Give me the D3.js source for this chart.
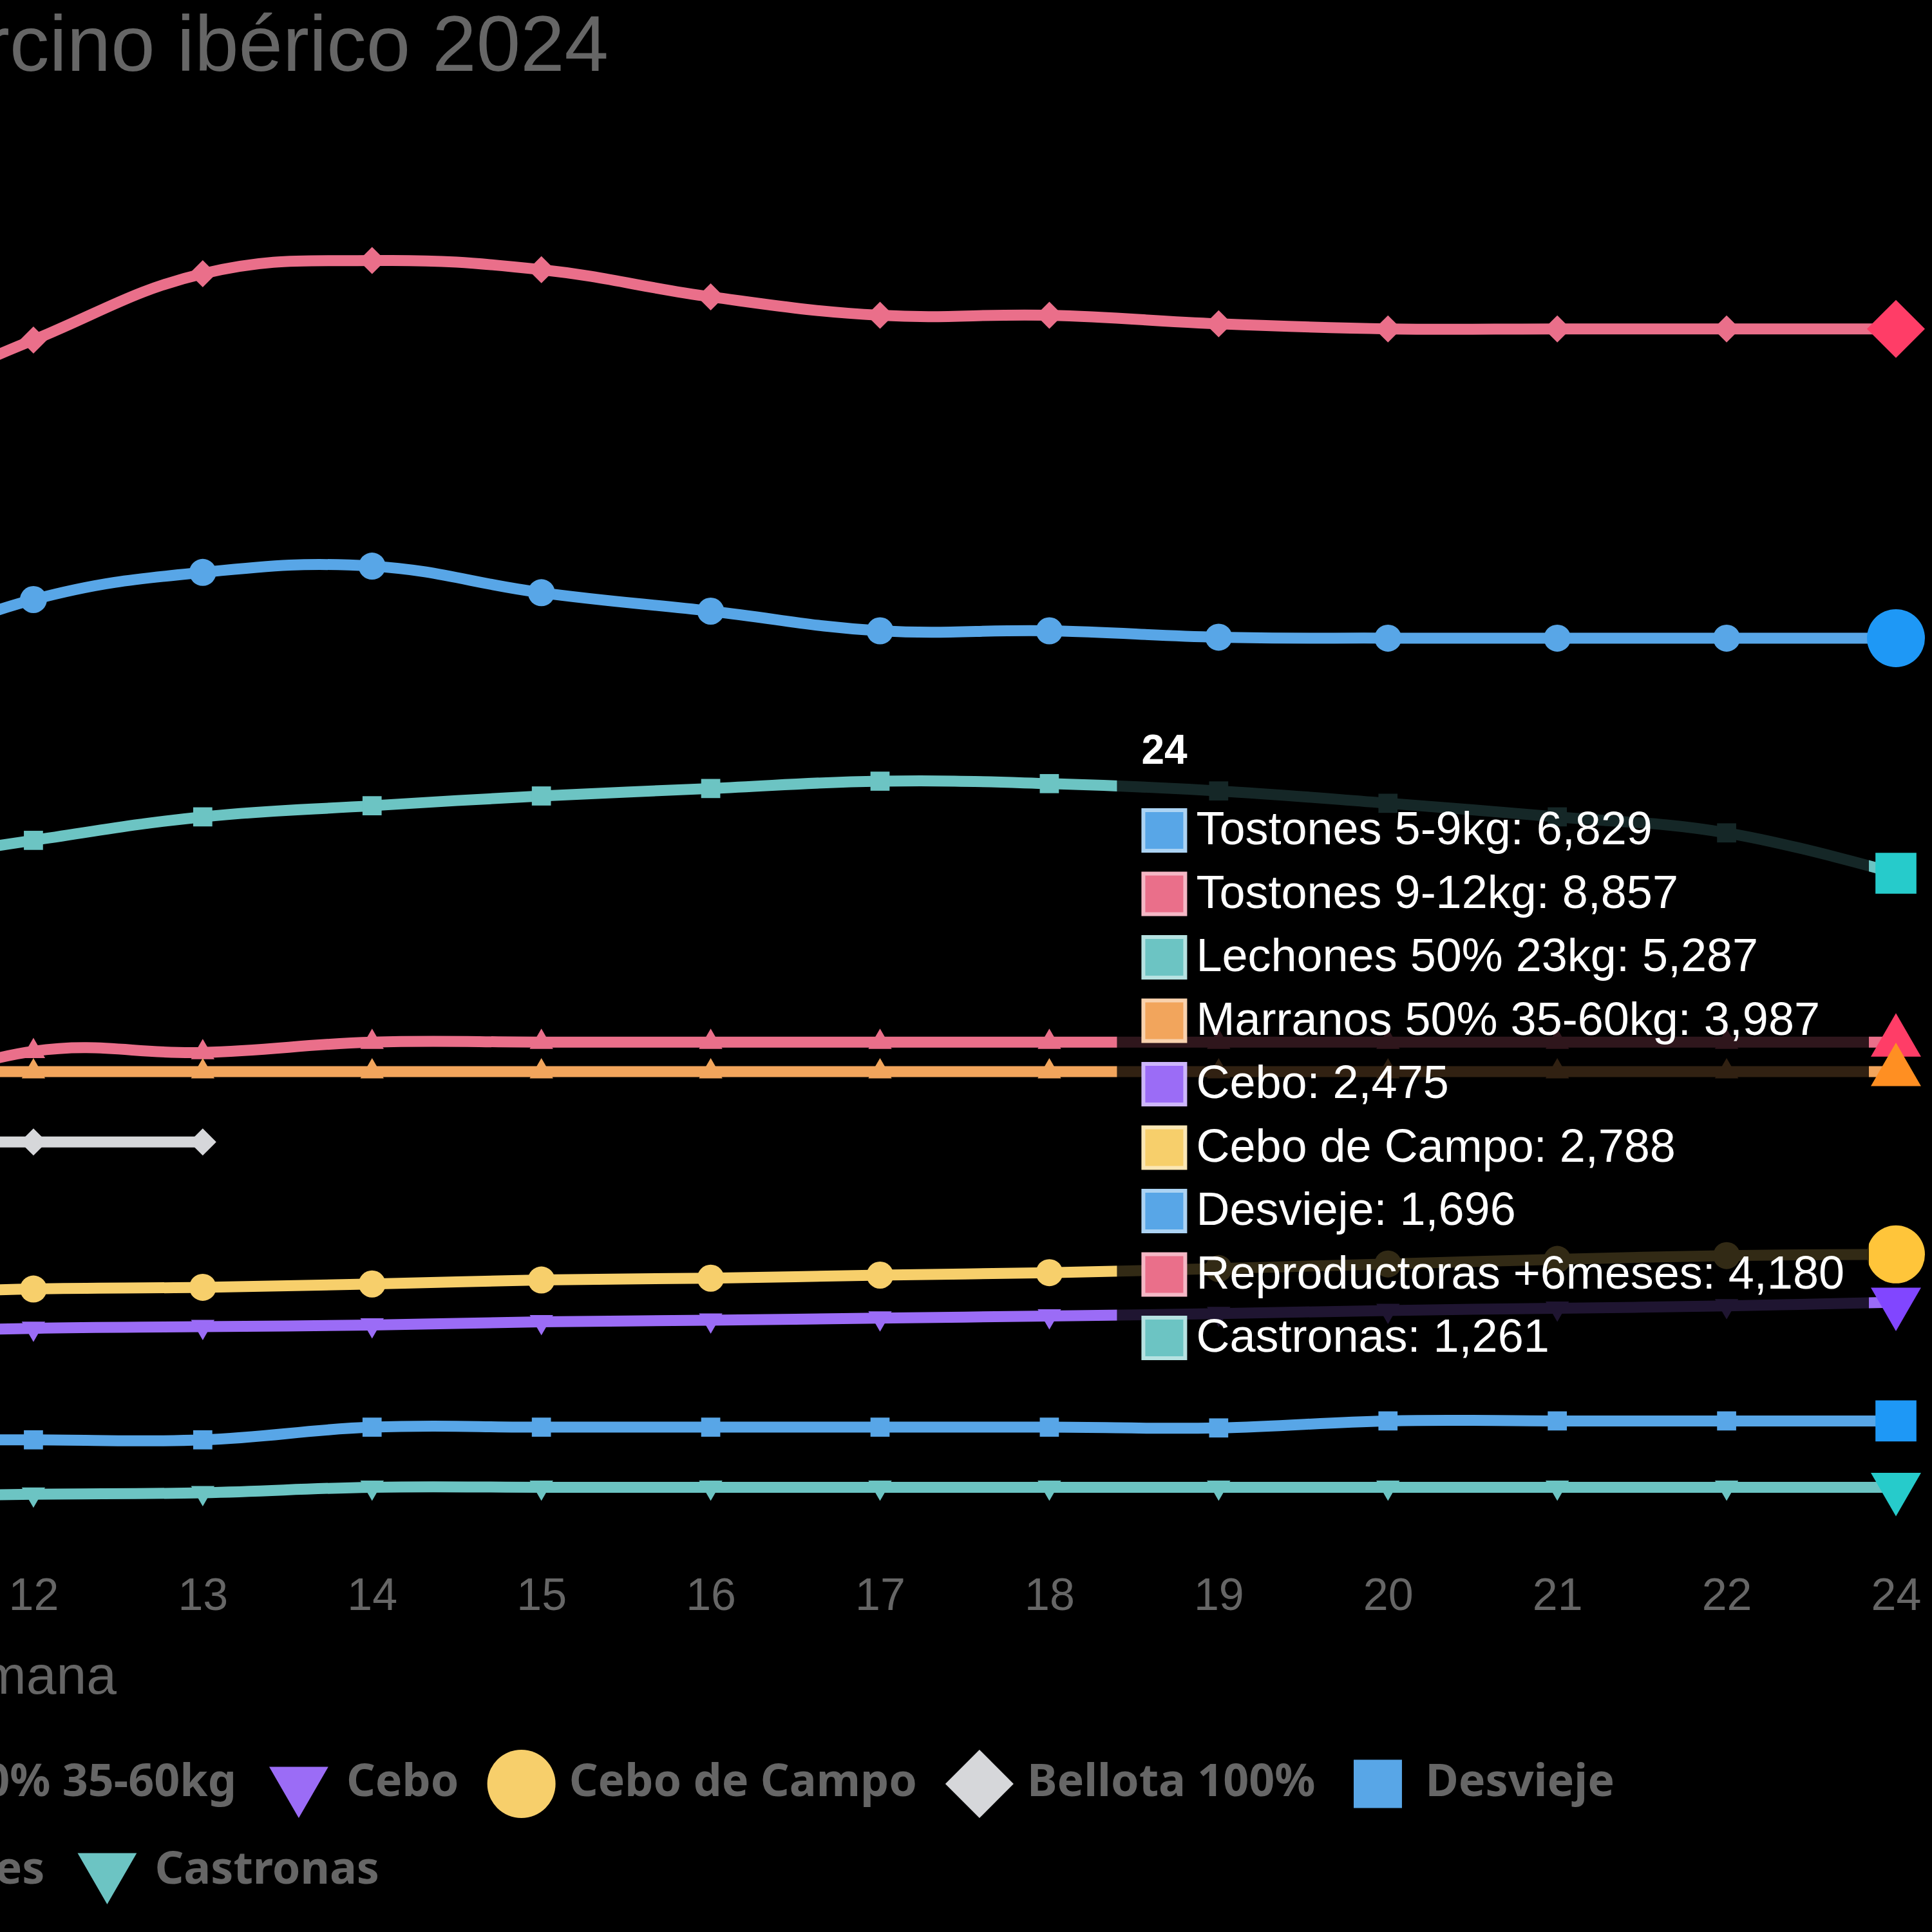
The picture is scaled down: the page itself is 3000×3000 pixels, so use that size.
<!DOCTYPE html>
<html>
<head>
<meta charset="utf-8">
<script src="https://cdn.jsdelivr.net/npm/d3@7"></script>
<style>
  body { margin: 0; background: #000; }
  svg { display: block; background: #000; }
</style>
</head>
<body>
<svg id="chart" width="3000" height="3000"></svg>
<script>
const weeks = ["11", "12", "13", "14", "15", "16", "17", "18", "19", "20", "21", "22", "24"];

const seriesNames = [
  "Tostones 5-9kg", "Tostones 9-12kg", "Lechones 50% 23kg", "Marranos 50% 35-60kg",
  "Cebo", "Cebo de Campo", "Bellota 100%", "Desvieje", "Reproductoras +6meses", "Castronas"
];

const tostones59     = [6680, 7082, 7260, 7301, 7127, 7006, 6877, 6877, 6835, 6829, 6829, 6829, 6829];
const tostones912    = [8310, 8784, 9219, 9305, 9245, 9067, 8946, 8946, 8890, 8857, 8857, 8857, 8857];
const lechones       = [5330, 5503, 5657, 5730, 5794, 5843, 5891, 5875, 5827, 5746, 5657, 5552, 5287];
const marranos       = [3987, 3987, 3987, 3987, 3987, 3987, 3987, 3987, 3987, 3987, 3987, 3987, 3987];
const cebo           = [2270, 2303, 2314, 2325, 2346, 2356, 2370, 2384, 2400, 2420, 2435, 2450, 2475];
const ceboCampo      = [2530, 2561, 2572, 2594, 2620, 2632, 2652, 2668, 2695, 2725, 2755, 2780, 2788];
const bellota        = [3525, 3525, 3525, null, null, null, null, null, null, null, null, null, null];
const desvieje       = [1575, 1572, 1572, 1655, 1655, 1655, 1655, 1655, 1650, 1696, 1696, 1696, 1696];
const reproductoras  = [3800, 4120, 4112, 4180, 4180, 4180, 4180, 4180, 4180, 4180, 4180, 4180, 4180];
const castronas      = [1200, 1215, 1225, 1261, 1261, 1261, 1261, 1261, 1261, 1261, 1261, 1261, 1261];

const seriesValues = [tostones59, tostones912, lechones, marranos, cebo, ceboCampo, bellota, desvieje, reproductoras, castronas];

const seriesColors = ['#58a6e7', '#ea6f8a', '#6cc4c3', '#f2a55c', '#9b6cf6', '#f7cf6b', '#d6d7da', '#58a6e7', '#ea6f8a', '#6cc4c3'];
const hoverColors  = ['#1e98f6', '#ff3d67', '#26cbcb', '#ff8f22', '#8146ff', '#ffc53a', '#bfc2c7', '#1e98f6', '#ff3d67', '#26cbcb'];
const seriesShapes = ['circle', 'rectRot', 'rect', 'triangle', 'triangleDown', 'circle', 'rectRot', 'rect', 'triangle', 'triangleDown'];

const legendRows = [[0, 1, 2, 3, 4, 5, 6, 7], [8, 9]];

const svg = d3.select('#chart');
const fmt = d3.format(',');

const x = d3.scalePoint().domain(weeks).range([-211, 2944]);
const y = d3.scaleLinear().domain([0, 10000]).range([2608, 240]);

// point styles, sized by radius like chart.js does
function shapePath(shape, r) {
  const p = d3.path();
  if (shape === 'circle') {
    p.arc(0, 0, r, 0, 2 * Math.PI);
  } else if (shape === 'rectRot') {
    p.moveTo(0, -r); p.lineTo(r, 0); p.lineTo(0, r); p.lineTo(-r, 0); p.closePath();
  } else if (shape === 'rect') {
    const s = r * Math.SQRT1_2;
    p.rect(-s, -s, 2 * s, 2 * s);
  } else {
    const dir = shape === 'triangle' ? 1 : -1;
    for (let k = 0; k < 3; k++) {
      const a = k * 2 * Math.PI / 3;
      const px = Math.sin(a) * r, py = -Math.cos(a) * r * dir;
      if (k === 0) p.moveTo(px, py); else p.lineTo(px, py);
    }
    p.closePath();
  }
  return p.toString();
}

const series = seriesNames.map((name, i) => ({
  name: name,
  i: i,
  color: seriesColors[i],
  hover: hoverColors[i],
  shape: seriesShapes[i],
  points: weeks.map((w, j) => ({ week: w, v: seriesValues[i][j], j: j }))
}));

const last = weeks.length - 1;

const line = d3.line()
  .defined(d => d.v != null)
  .x(d => x(d.week))
  .y(d => y(d.v))
  .curve(d3.curveCardinal.tension(-0.2));

// Title
svg.append('text')
  .attr('x', 945)
  .attr('y', 110)
  .attr('text-anchor', 'end')
  .attr('fill', '#666')
  .style('font-family', '"Liberation Sans", Arial, sans-serif')
  .style('font-size', '123px')
  .text('Precio porcino ibérico 2024');

// X axis
const xAxis = svg.append('g')
  .attr('transform', 'translate(0, 2430)')
  .call(d3.axisBottom(x).tickSize(0).tickPadding(20));
xAxis.select('.domain').remove();
xAxis.selectAll('text')
  .attr('fill', '#666')
  .style('font-family', '"Liberation Sans", Arial, sans-serif')
  .style('font-size', '70px');

svg.append('text')
  .attr('x', 181)
  .attr('y', 2630)
  .attr('text-anchor', 'end')
  .attr('fill', '#666')
  .style('font-family', '"Liberation Sans", Arial, sans-serif')
  .style('font-size', '84px')
  .text('Semana');

// Lines and points (first series drawn last so it sits on top)
const plot = svg.append('g');
plot.selectAll('.serie')
  .data(series.slice().reverse())
  .enter()
  .append('g')
  .attr('class', 'serie')
  .each(function (s) {
    const g = d3.select(this);
    g.append('path')
      .attr('d', line(s.points))
      .attr('fill', 'none')
      .attr('stroke', s.color)
      .attr('stroke-width', 17)
      .attr('stroke-linejoin', 'round');

    g.selectAll('.pt')
      .data(s.points.filter(p => p.v != null && p.j < last))
      .enter()
      .append('path')
      .attr('class', 'pt')
      .attr('transform', p => `translate(${x(p.week)},${y(p.v)})`)
      .attr('d', shapePath(s.shape, 21))
      .attr('fill', s.color);

    // hovered point at the last week
    const hp = s.points[last];
    if (hp.v != null) {
      g.append('path')
        .attr('transform', `translate(${x(hp.week)},${y(hp.v)})`)
        .attr('d', shapePath(s.shape, 45))
        .attr('fill', s.hover);
    }
  });

// Legend
const legend = svg.append('g');
const legendY = [{ cy: 2770, base: 2789, end: 2507 }, { cy: 2904, base: 2925, end: 589 }];

legendRows.forEach((row, r) => {
  const rowG = legend.append('g');
  let cx = 0;
  let textEnd = 0;
  row.forEach(i => {
    const s = series[i];
    rowG.append('path')
      .attr('transform', `translate(${cx},${legendY[r].cy})`)
      .attr('d', shapePath(s.shape, 53))
      .attr('fill', s.color);
    const t = rowG.append('text')
      .attr('x', cx + 74)
      .attr('y', legendY[r].base)
      .attr('fill', '#666')
      .style('font-family', '"Noto Sans", "Open Sans", sans-serif')
      .style('font-weight', 'bold')
      .style('font-size', '70px')
      .text(s.name);
    textEnd = cx + 74 + t.node().getComputedTextLength();
    cx = textEnd + 97;
  });
  rowG.attr('transform', `translate(${legendY[r].end - textEnd}, 0)`);
});

// Tooltip for week 24
const tipItems = series.filter(s => s.points[last].v != null);
const pad = 38;
const rowStep = 98.5;
const boxH = 145 + (tipItems.length - 1) * rowStep + 69 + 28;
const meanY = d3.mean(tipItems, s => y(s.points[last].v));
const boxTop = meanY - boxH / 2;

const tip = svg.append('g');
const tipTitle = tip.append('text')
  .attr('y', boxTop + 76)
  .attr('fill', '#fff')
  .style('font-family', '"Liberation Sans", Arial, sans-serif')
  .style('font-weight', 'bold')
  .style('font-size', '64px')
  .text(weeks[last]);

const tipRows = tip.selectAll('.row')
  .data(tipItems)
  .enter()
  .append('g')
  .attr('class', 'row');

tipRows.append('text')
  .attr('class', 'lbl')
  .attr('y', (s, k) => boxTop + 201 + k * rowStep)
  .attr('fill', '#fff')
  .style('font-family', '"Liberation Sans", Arial, sans-serif')
  .style('font-size', '72px')
  .text(s => `${s.name}: ${fmt(s.points[last].v)}`);

let maxText = 0;
tipRows.selectAll('.lbl').each(function () {
  maxText = Math.max(maxText, this.getComputedTextLength());
});

const boxRight = x(weeks[last]) - 42;
const boxW = pad + 71 + 14 + maxText + pad;
const boxLeft = boxRight - boxW;

tip.insert('rect', ':first-child')
  .attr('x', boxLeft)
  .attr('y', boxTop)
  .attr('width', boxW)
  .attr('height', boxH)
  .attr('rx', 30)
  .attr('fill', 'rgba(0,0,0,0.8)');

tipTitle.attr('x', boxLeft + pad);

tipRows.append('rect')
  .attr('x', boxLeft + pad)
  .attr('y', (s, k) => boxTop + 145 + k * rowStep)
  .attr('width', 71)
  .attr('height', 69)
  .attr('fill', s => d3.interpolateRgb(s.color, '#fff')(0.5));

tipRows.append('rect')
  .attr('x', boxLeft + pad + 6)
  .attr('y', (s, k) => boxTop + 145 + k * rowStep + 6)
  .attr('width', 59)
  .attr('height', 57)
  .attr('fill', s => s.color);

tipRows.selectAll('.lbl').attr('x', boxLeft + pad + 71 + 14);
</script>
</body>
</html>
